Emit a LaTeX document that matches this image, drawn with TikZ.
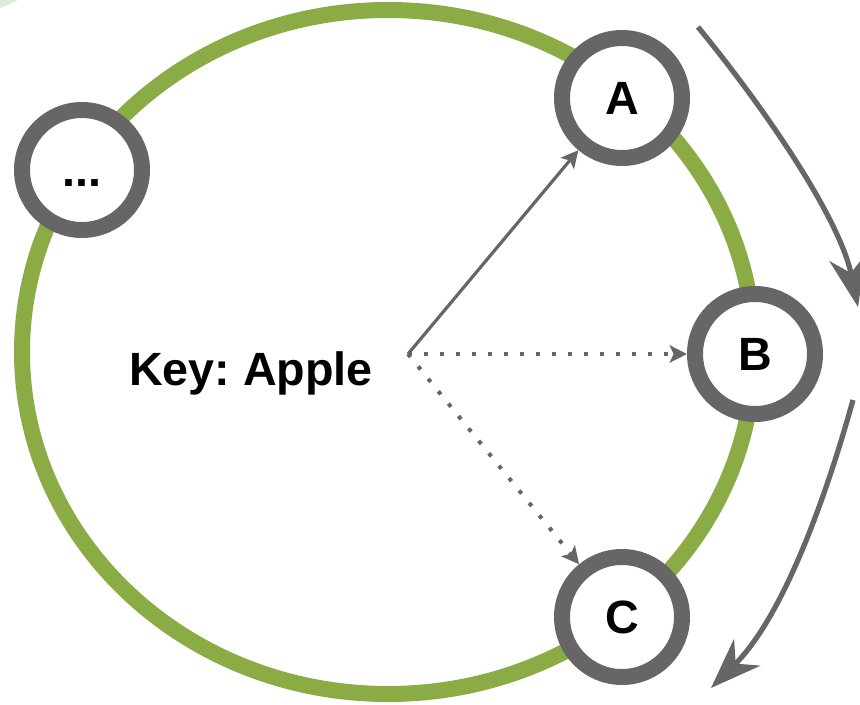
\documentclass[tikz,border=0pt]{standalone}
\usepackage{fontspec}
\setmainfont{Liberation Sans}
\usetikzlibrary{arrows.meta}
\definecolor{node_gray}{RGB}{102,102,102}
\definecolor{ring_green}{RGB}{139,171,68}
\definecolor{pale_green}{RGB}{221,236,216}

\begin{document}
\begin{tikzpicture}[x=0.75pt,y=-0.75pt,>={Stealth[length=13pt,width=13pt,inset=3pt]}]
    \tikzstyle{peer}=[draw=node_gray, circle, line width=12pt, minimum size=90pt, inner sep=0pt, outer sep=6pt, fill=white, text=black, font=\bfseries\fontsize{35}{35}\selectfont, text height=25pt, text depth=0pt]
    \tikzstyle{hop}=[->, draw=node_gray, line width=2.4pt]
    \tikzstyle{probe}=[hop, line width=3pt, dash pattern=on 3pt off 9pt]
    \tikzstyle{turn}=[draw=node_gray, line width=3.9pt, -{Stealth[length=38pt,width=28pt,inset=12pt]}]

    \useasboundingbox (0,0) rectangle (860,705);
    \fill[pale_green] (0,0) -- (18,0) to[bend left=5] (0,8) -- cycle;
    % the ring
    \draw[ring_green, line width=12pt] (388,352) ellipse [x radius=366, y radius=342];

    \node[peer] (dots) at (82,170)  {...};
    \node[peer] (a)    at (622,98)  {A};
    \node[peer] (b)    at (755,354) {B};
    \node[peer] (c)    at (622,617) {C};

    \coordinate (key) at (408,354);
    \node[font=\bfseries\fontsize{35}{35}\selectfont, text height=25pt, text depth=0pt] (label) at (251,369) {Key:\ Apple};

    \path
     (key) edge[hop]   (a)
     (key) edge[probe] (b)
     (key) edge[probe] (c)
     ;

    % walking direction round the ring
    \coordinate (t1) at (698,27);
    \coordinate (t2) at (858,307);
    \coordinate (t3) at (853,400);
    \coordinate (t4) at (711,688);
    \draw[turn] (t1) .. controls (770,115) and (840,220) .. (t2);
    \draw[turn] (t3) .. controls (828,490) and (785,615) .. (t4);
  \end{tikzpicture}
\end{document}
